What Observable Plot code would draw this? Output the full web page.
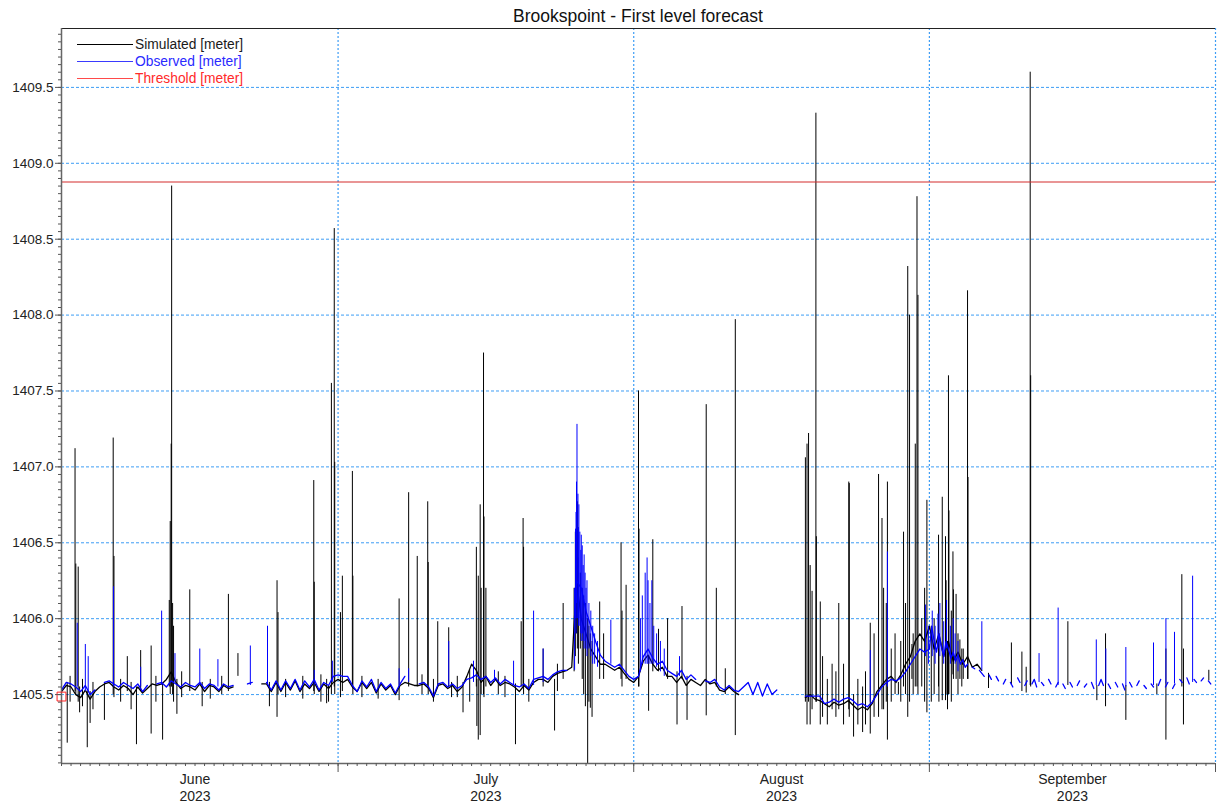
<!DOCTYPE html>
<html>
<head>
<meta charset="utf-8">
<script src="https://cdn.jsdelivr.net/npm/d3@7"></script>
<script src="https://cdn.jsdelivr.net/npm/@observablehq/plot@0.6"></script>
<style>
  body { margin: 0; background: #fff; }
  #chart { position: relative; width: 1218px; height: 803px; font-family: "Liberation Sans", Arial, sans-serif; color: #222; }
  #chart svg { position: absolute; left: 0; top: 0; }
  #title { position: absolute; left: 61px; width: 1154px; top: 5px; text-align: center; font-size: 17.5px; line-height: 22px; color: #111; }
  #legend { position: absolute; left: 77px; top: 35.5px; font-size: 13.8px; }
  .row { height: 17px; display: flex; align-items: center; white-space: nowrap; }
  .swatch { width: 56px; height: 1px; margin-right: 2px; }
</style>
</head>
<body>
<div id="chart">
  <div id="title"></div>
  <div id="legend"></div>
</div>
<script>
// ---- time base: readings are indexed in days since 2 June 2023 00:00 UTC
const start = Date.UTC(2023, 5, 2);
const end = Date.UTC(2023, 9, 1);
const DAY = 864e5;
const at = d => new Date(start + d * DAY);

const title = "Brookspoint - First level forecast";
const seriesNames = ["Simulated [meter]", "Observed [meter]", "Threshold [meter]"];
const threshold = 1408.88;

// y axis
const yDomain = [1405.046, 1409.888];
const yMajor = [1405.5, 1406.0, 1406.5, 1407.0, 1407.5, 1408.0, 1408.5, 1409.0, 1409.5];
const yMinorStep = 0.05;

// x axis
const monthStarts = ["2023-07-01", "2023-08-01", "2023-09-01", "2023-10-01"];
const monthNames = ["June", "July", "August", "September"];
const monthMids = ["2023-06-16T00:00Z", "2023-07-16T12:00Z", "2023-08-16T12:00Z", "2023-09-16T00:00Z"];
const yearLabel = "2023";

// Observed level, every 12 h from 2 June to 31 August (null = no reading)
const observed12h = [
  1405.53, 1405.58, 1405.57, 1405.55, 1405.52, 1405.56, 1405.50, 1405.53, null, 1405.58,
  1405.59, 1405.57, 1405.55, 1405.58, 1405.56, 1405.54, 1405.57, 1405.52, 1405.56, null,
  1405.57, 1405.58, 1405.55, 1405.59, 1405.57, 1405.55, 1405.58, 1405.56, 1405.55, 1405.58,
  1405.54, 1405.57, 1405.56, 1405.53, 1405.57, 1405.55, 1405.56, null, null, 1405.57,
  1405.58, null, null, 1405.58, 1405.53, 1405.59, 1405.53, 1405.59, 1405.54, 1405.60,
  1405.53, 1405.59, 1405.55, 1405.60, 1405.53, 1405.58, 1405.56, 1405.62, 1405.63, 1405.62,
  1405.62, 1405.56, 1405.52, 1405.59, 1405.55, 1405.60, 1405.52, 1405.58, 1405.54, 1405.57,
  1405.51, 1405.57, 1405.62, null, null, 1405.57, 1405.58, 1405.55, 1405.49, 1405.57,
  1405.58, 1405.55, 1405.57, 1405.54, 1405.56, 1405.60, 1405.61, 1405.63, 1405.60, 1405.62,
  1405.58, 1405.61, 1405.57, 1405.60, 1405.58, 1405.56, 1405.55, 1405.57, 1405.54, 1405.60,
  1405.61, 1405.62, 1405.60, 1405.63, 1405.65, 1405.66, 1405.66, null, 1406.25, 1406.20,
  1406.05, 1405.95, 1405.85, 1405.76, 1405.72, 1405.70, 1405.68, 1405.70, 1405.66, 1405.62,
  1405.60, 1405.62, 1405.75, 1405.80, 1405.74, 1405.70, 1405.72, 1405.66, 1405.64, 1405.62,
  1405.66, 1405.60, 1405.63, 1405.60, null, 1405.59, 1405.58, 1405.60, 1405.55, 1405.53,
  1405.56, 1405.53, 1405.52, 1405.55, 1405.58, 1405.50, 1405.58, 1405.49, 1405.57, 1405.50,
  1405.53, null, null, null, null, null, 1405.49, 1405.49, 1405.49, 1405.49,
  1405.44, 1405.45, 1405.47, 1405.45, 1405.47, 1405.48, 1405.46, 1405.43, 1405.44, 1405.42,
  1405.45, 1405.50, 1405.55, 1405.58, 1405.60, 1405.59, 1405.61, 1405.65, 1405.70, 1405.75,
  1405.80, 1405.78
];

// Observed level, every 6 h through September (patchy readings)
const observed6h = [
  1405.80, 1405.95, 1405.85, 1405.78,  1405.90, 1405.82, 1405.75, 1405.85,
  1405.80, 1405.74, 1405.78, 1405.72,  1405.76, 1405.70, 1405.73, 1405.68,
  1405.70, null, 1405.68, 1405.67,     null, 1405.66, 1405.64, 1405.62,
  null, 1405.63, 1405.60, null,        1405.62, 1405.59, null, 1405.57,
  1405.60, null, 1405.58, 1405.55,     null, 1405.61, 1405.58, null,
  1405.56, 1405.59, null, 1405.57,     1405.60, 1405.55, null, 1405.58,
  1405.56, null, 1405.60, 1405.57,     null, 1405.55, 1405.58, null,
  1405.57, 1405.54, null, 1405.58,     1405.55, null, 1405.56, 1405.59,
  null, 1405.55, 1405.57, null,        1405.58, 1405.54, null, 1405.56,
  1405.60, 1405.56, null, 1405.57,     1405.54, null, 1405.58, 1405.55,
  null, 1405.57, 1405.53, null,        1405.58, 1405.55, null, 1405.56,
  1405.59, null, 1405.56, 1405.54,     null, 1405.57, 1405.55, null,
  1405.56, 1405.60, null, 1405.55,     1405.58, null, 1405.54, 1405.57,
  null, 1405.60, 1405.58, null,        1405.61, 1405.57, null, 1405.60,
  1405.58, null, 1405.59, 1405.61,     null, 1405.59, 1405.57, null,
  null
];

// Simulated level, every 12 h from 2 June to 7 September
const simulated12h = [
  1405.52, 1405.56, 1405.55, 1405.50, 1405.48, 1405.53, 1405.47, 1405.52, 1405.55, 1405.57,
  1405.58, 1405.55, 1405.53, 1405.56, 1405.54, 1405.50, 1405.55, 1405.51, 1405.54, 1405.57,
  1405.56, 1405.57, 1405.60, 1405.65, 1405.58, 1405.54, 1405.56, 1405.55, 1405.53, 1405.57,
  1405.52, 1405.56, 1405.55, 1405.52, 1405.56, 1405.54, 1405.55, null, null, null,
  null, null, 1405.57, 1405.57, 1405.52, 1405.58, 1405.52, 1405.58, 1405.53, 1405.59,
  1405.52, 1405.57, 1405.54, 1405.58, 1405.52, 1405.57, 1405.54, 1405.58, 1405.60, 1405.58,
  1405.60, 1405.55, 1405.52, 1405.58, 1405.54, 1405.58, 1405.51, 1405.57, 1405.53, 1405.56,
  1405.50, 1405.56, 1405.58, 1405.57, 1405.56, 1405.56, 1405.57, 1405.54, 1405.48, 1405.56,
  1405.57, 1405.54, 1405.56, 1405.52, 1405.55, 1405.62, 1405.70, 1405.66, 1405.58, 1405.62,
  1405.56, 1405.60, 1405.56, 1405.58, 1405.57, 1405.55, 1405.52, 1405.56, 1405.53, 1405.58,
  1405.60, 1405.60, 1405.58, 1405.62, 1405.64, 1405.65, 1405.66, 1405.68, 1406.25, 1406.00,
  1405.90, 1405.80, 1405.75, 1405.70, 1405.70, 1405.68, 1405.66, 1405.68, 1405.64, 1405.60,
  1405.58, 1405.62, 1405.72, 1405.76, 1405.70, 1405.66, 1405.68, 1405.62, 1405.62, 1405.58,
  1405.62, 1405.56, 1405.60, 1405.58, 1405.56, 1405.60, 1405.57, 1405.58, 1405.53, 1405.52,
  1405.55, 1405.52, 1405.50, null, null, null, null, null, null, null,
  null, null, null, null, null, null, 1405.48, 1405.50, 1405.47, 1405.46,
  1405.44, 1405.42, 1405.45, 1405.43, 1405.44, 1405.46, 1405.43, 1405.40, 1405.42, 1405.40,
  1405.44, 1405.52, 1405.56, 1405.60, 1405.62, 1405.58, 1405.63, 1405.70, 1405.75, 1405.85,
  1405.90, 1405.85, 1405.95, 1405.80, 1405.90, 1405.75, 1405.85, 1405.72, 1405.78, 1405.70,
  1405.75, 1405.68, 1405.70, 1405.66
];

// Short simulated excursions: [day, low, high]
const simSpikes = [
  [0.6, 1405.18, 1405.58], [0.9, 1405.45, 1405.62], [1.42, 1405.52, 1407.12], [1.5, 1405.50, 1406.36],
  [1.75, 1405.45, 1406.34], [1.9, 1405.38, 1405.55], [2.2, 1405.42, 1405.60], [2.7, 1405.15, 1405.52],
  [3.0, 1405.31, 1405.52], [3.3, 1405.40, 1405.58], [4.5, 1405.33, 1405.57], [5.42, 1405.50, 1407.19],
  [5.5, 1405.48, 1406.41], [6.2, 1405.45, 1405.60], [6.9, 1405.52, 1405.75], [7.3, 1405.40, 1405.58],
  [7.86, 1405.17, 1405.55], [8.3, 1405.52, 1405.79], [9.4, 1405.24, 1405.82], [9.9, 1405.45, 1405.62],
  [10.6, 1405.20, 1405.57], [11.3, 1405.55, 1406.12], [11.4, 1405.50, 1406.64], [11.5, 1405.55, 1407.15],
  [11.55, 1405.55, 1408.85], [11.65, 1405.50, 1406.10], [11.75, 1405.45, 1405.95], [12.1, 1405.37, 1405.60],
  [12.6, 1405.48, 1405.65], [13.45, 1405.52, 1406.19], [14.75, 1405.42, 1405.58], [15.6, 1405.47, 1405.60],
  [16.8, 1405.50, 1405.62], [17.5, 1405.52, 1406.16], [18.5, 1405.62, 1405.77], [21.8, 1405.42, 1405.58],
  [22.6, 1405.35, 1406.25], [22.7, 1405.50, 1406.04], [23.5, 1405.48, 1405.60], [25.3, 1405.47, 1405.62],
  [26.45, 1405.52, 1406.91], [26.5, 1405.50, 1406.24], [27.2, 1405.45, 1405.63], [27.8, 1405.44, 1405.60],
  [28.0, 1405.45, 1405.56], [28.3, 1405.50, 1407.55], [28.6, 1405.55, 1408.57], [28.65, 1405.50, 1407.03],
  [29.25, 1405.48, 1406.04], [29.45, 1405.52, 1406.28], [30.5, 1405.55, 1406.97], [30.55, 1405.50, 1406.28],
  [31.5, 1405.48, 1405.62], [33.2, 1405.47, 1405.60], [35.4, 1405.46, 1406.13], [36.4, 1405.55, 1406.83],
  [37.3, 1405.55, 1406.41], [37.8, 1405.50, 1405.63], [38.4, 1405.55, 1406.77], [38.45, 1405.50, 1406.37],
  [39.0, 1405.45, 1405.60], [39.45, 1405.55, 1405.98], [40.6, 1405.55, 1405.94], [40.9, 1405.48, 1405.58],
  [41.5, 1405.48, 1405.62], [42.1, 1405.38, 1405.58], [42.8, 1405.45, 1405.66], [43.5, 1405.55, 1406.47],
  [43.55, 1405.29, 1405.60], [43.7, 1405.20, 1406.28], [43.9, 1405.23, 1406.75], [44.0, 1405.50, 1406.20],
  [44.25, 1405.50, 1407.75], [44.3, 1405.48, 1406.67], [44.5, 1405.55, 1406.20], [45.8, 1405.50, 1405.65],
  [46.5, 1405.48, 1405.62], [47.6, 1405.17, 1405.57], [48.2, 1405.55, 1405.98], [48.4, 1405.55, 1406.66],
  [48.45, 1405.50, 1406.47], [49.0, 1405.45, 1405.60], [50.5, 1405.55, 1405.80], [51.7, 1405.26, 1405.60],
  [52.0, 1405.52, 1405.70], [52.6, 1405.60, 1406.10],
  [53.75, 1405.65, 1406.20], [53.88, 1405.75, 1406.57], [54.0, 1405.90, 1406.57], [54.09, 1405.80, 1406.77],
  [54.2, 1405.70, 1406.40], [54.4, 1405.80, 1406.30], [54.6, 1405.60, 1406.20], [54.75, 1405.50, 1406.15],
  [54.93, 1405.42, 1406.10], [55.17, 1405.04, 1406.00], [55.3, 1405.45, 1405.95], [55.45, 1405.41, 1405.90],
  [55.63, 1405.35, 1405.85], [56.43, 1405.60, 1406.11], [56.84, 1405.60, 1405.90], [58.67, 1405.60, 1406.50],
  [58.77, 1405.55, 1406.05], [59.2, 1405.60, 1406.22], [60.5, 1405.55, 1407.50], [60.55, 1405.55, 1406.59],
  [61.56, 1405.39, 1405.75], [62.0, 1405.65, 1406.52], [62.6, 1405.65, 1405.93], [63.55, 1405.60, 1406.00],
  [64.54, 1405.30, 1405.65], [65.06, 1405.60, 1406.08], [65.59, 1405.33, 1405.62], [67.6, 1405.36, 1407.41],
  [68.66, 1405.55, 1406.20], [69.6, 1405.50, 1405.67], [70.65, 1405.23, 1407.97],
  [78.0, 1405.45, 1407.06], [78.17, 1405.30, 1407.15], [78.33, 1405.45, 1407.22], [78.5, 1405.30, 1406.35],
  [78.7, 1405.40, 1406.18], [79.1, 1405.45, 1409.33], [79.15, 1405.45, 1406.54], [79.56, 1405.30, 1406.11],
  [79.8, 1405.35, 1405.75], [80.3, 1405.30, 1405.60], [80.8, 1405.40, 1405.70], [81.2, 1405.35, 1405.65],
  [81.5, 1405.40, 1406.10], [82.0, 1405.30, 1405.70], [82.55, 1405.40, 1406.90], [82.6, 1405.35, 1406.89],
  [83.05, 1405.22, 1405.50], [83.5, 1405.30, 1405.60], [84.0, 1405.25, 1405.55], [84.3, 1405.30, 1405.65],
  [84.8, 1405.24, 1405.97], [85.2, 1405.35, 1405.90], [85.67, 1405.35, 1406.95], [86.03, 1405.40, 1406.66],
  [86.2, 1405.40, 1406.20], [86.48, 1405.45, 1406.10], [86.6, 1405.20, 1406.90], [87.0, 1405.45, 1405.80],
  [87.4, 1405.50, 1405.90], [87.75, 1405.50, 1405.58], [88.0, 1405.45, 1405.85], [88.29, 1405.55, 1406.57],
  [88.5, 1405.50, 1406.10], [88.73, 1405.35, 1408.32], [88.92, 1405.45, 1408.00], [89.17, 1405.60, 1405.83],
  [89.3, 1405.50, 1405.90], [89.52, 1405.55, 1407.15], [89.7, 1405.55, 1408.78], [89.8, 1405.50, 1408.13],
  [90.2, 1405.55, 1406.00], [90.5, 1405.45, 1406.20], [90.74, 1405.38, 1406.78],
  [91.2, 1405.45, 1405.95], [91.5, 1405.50, 1406.00], [91.96, 1405.55, 1406.55], [92.0, 1405.45, 1405.90],
  [92.35, 1405.46, 1406.80], [92.69, 1405.46, 1406.54], [92.75, 1405.50, 1406.25], [92.9, 1405.40, 1405.85],
  [93.0, 1405.50, 1407.60], [93.05, 1405.50, 1406.71], [93.3, 1405.45, 1406.05], [93.47, 1405.63, 1406.44],
  [93.52, 1405.60, 1406.19], [93.8, 1405.60, 1406.16], [94.0, 1405.50, 1405.90], [94.2, 1405.60, 1405.86],
  [94.4, 1405.55, 1405.80], [94.55, 1405.60, 1405.80], [95.0, 1405.60, 1408.16], [95.05, 1405.60, 1406.93],
  [97.2, 1405.54, 1405.64], [99.6, 1405.56, 1405.84], [100.7, 1405.52, 1405.78], [101.15, 1405.51, 1405.68],
  [101.57, 1405.56, 1409.60], [101.62, 1405.55, 1407.60], [105.52, 1405.56, 1405.98], [108.56, 1405.46, 1405.56],
  [109.47, 1405.42, 1405.90], [111.6, 1405.33, 1405.56], [114.85, 1405.50, 1405.57], [115.8, 1405.20, 1405.80],
  [117.47, 1405.55, 1406.29], [117.64, 1405.30, 1405.80], [120.3, 1405.59, 1405.66]
];

// Short observed excursions: [day, low, high]
const obsSpikes = [
  [1.65, 1405.55, 1405.97], [2.5, 1405.52, 1405.83], [2.8, 1405.52, 1405.75], [5.45, 1405.55, 1406.21],
  [8.3, 1405.55, 1405.68], [10.5, 1405.56, 1406.05], [11.9, 1405.58, 1405.77], [14.5, 1405.56, 1405.80],
  [16.4, 1405.55, 1405.73], [19.8, 1405.56, 1405.82], [21.6, 1405.56, 1405.95], [26.5, 1405.56, 1405.66],
  [28.4, 1405.58, 1405.72], [35.4, 1405.56, 1405.67], [36.4, 1405.58, 1405.67], [40.6, 1405.56, 1405.85],
  [43.2, 1405.58, 1405.72], [45.4, 1405.58, 1405.66], [47.4, 1405.56, 1405.72], [49.5, 1405.56, 1406.05],
  [50.5, 1405.58, 1405.80],
  [53.8, 1405.66, 1406.20], [53.9, 1406.00, 1406.59], [53.95, 1405.90, 1406.70], [54.0, 1406.10, 1406.90],
  [54.05, 1406.00, 1407.28], [54.15, 1406.00, 1406.82], [54.2, 1405.95, 1406.60], [54.25, 1406.00, 1406.75],
  [54.35, 1405.95, 1406.57], [54.45, 1405.90, 1406.45], [54.5, 1405.85, 1406.55], [54.6, 1405.90, 1406.48],
  [54.7, 1405.85, 1406.35], [54.8, 1405.80, 1406.42], [54.9, 1405.85, 1406.30], [55.0, 1405.80, 1406.20],
  [55.1, 1405.75, 1406.25], [55.3, 1405.80, 1406.10], [55.5, 1405.75, 1406.05], [55.7, 1405.70, 1405.95],
  [55.9, 1405.70, 1405.90], [56.2, 1405.68, 1405.85], [57.6, 1405.70, 1405.99],
  [60.7, 1405.65, 1406.00], [60.9, 1405.70, 1406.15], [61.2, 1405.70, 1406.30], [61.4, 1405.70, 1406.40],
  [61.5, 1405.70, 1406.25], [61.7, 1405.70, 1406.10], [61.9, 1405.70, 1406.25], [62.1, 1405.70, 1405.95],
  [62.4, 1405.68, 1405.90], [62.8, 1405.65, 1405.85], [63.2, 1405.62, 1405.80], [64.8, 1405.62, 1405.75],
  [84.8, 1405.45, 1405.79], [86.6, 1405.55, 1406.44], [90.6, 1405.75, 1406.09], [90.9, 1405.70, 1405.95],
  [91.3, 1405.75, 1406.05], [91.6, 1405.70, 1405.95], [91.9, 1405.80, 1406.03], [92.1, 1405.75, 1406.10],
  [92.5, 1405.70, 1405.98], [92.8, 1405.80, 1406.12], [93.2, 1405.70, 1405.95], [93.5, 1405.75, 1406.00],
  [93.7, 1405.70, 1405.90], [94.0, 1405.65, 1405.85], [96.5, 1405.66, 1405.98], [102.5, 1405.58, 1405.77],
  [104.5, 1405.56, 1406.07], [108.5, 1405.56, 1405.86], [109.5, 1405.57, 1405.80], [111.6, 1405.55, 1405.81],
  [114.5, 1405.56, 1405.84], [115.8, 1405.57, 1406.00], [116.7, 1405.57, 1405.91], [118.6, 1405.58, 1406.28]
];

// start-of-run marker
const marker = [[0, 1405.487]];

// ---- tables for the marks
const simRows = simulated12h.map((v, i) => ({date: at(i * 0.5), value: v}));
const obsRows = [
  ...observed12h.map((v, i) => ({date: at(i * 0.5), value: v})),
  ...observed6h.map((v, i) => ({date: at(91 + i * 0.25), value: v}))
];
const thresholdRows = [{level: threshold}];
const yMinor = d3.range(Math.ceil(yDomain[0] / yMinorStep) * yMinorStep, yDomain[1], yMinorStep);
const dayTicks = d3.utcDay.range(new Date(start), new Date(end + 1));
const monthTicks = monthStarts.map(d => new Date(d));
const monthLabelRows = monthMids.map((d, i) => ({date: new Date(d), label: `${monthNames[i]}\n${yearLabel}`}));

const GRID = "#3d9df5";
const BLUE = "#0000ff";
const RED = "#d42c2c";
const spikeOpts = (color) => ({
  x: d => at(d[0]), y1: d => d[1], y2: d => d[2], stroke: color, strokeWidth: 1, clip: true
});

const svg = Plot.plot({
  width: 1218,
  height: 803,
  marginLeft: 61,
  marginRight: 3,
  marginTop: 28,
  marginBottom: 40,
  style: {fontFamily: "'Liberation Sans', Arial, sans-serif", fontSize: "13.5px", color: "#222", background: "#fff"},
  x: {type: "utc", domain: [new Date(start), new Date(end)]},
  y: {domain: yDomain},
  marks: [
    Plot.gridY(yMajor, {stroke: GRID, strokeOpacity: 1, strokeDasharray: "3,2"}),
    Plot.gridX(monthTicks, {stroke: GRID, strokeOpacity: 1, strokeDasharray: "2,2", strokeWidth: 1.2}),
    Plot.line(simRows, {x: "date", y: "value", stroke: "#000", strokeWidth: 1.3, clip: true}),
    Plot.ruleX(simSpikes, spikeOpts("#000")),
    Plot.line(obsRows, {x: "date", y: "value", stroke: BLUE, strokeWidth: 1.3, clip: true}),
    Plot.ruleX(obsSpikes, spikeOpts(BLUE)),
    // threshold: straddles two pixel rows so the thin red line keeps its hue
    Plot.ruleY(thresholdRows, {y: "level", stroke: RED, strokeOpacity: 1, strokeWidth: 1.2, dy: 0.5}),
    Plot.ruleY([yDomain[1]], {stroke: "#222", strokeWidth: 1}),
    Plot.ruleY([yDomain[0]], {stroke: "#666", strokeWidth: 1.5}),
    Plot.ruleX([new Date(start)], {stroke: "#666", strokeWidth: 1.5}),
    Plot.dot(marker, {x: d => at(d[0]), y: d => d[1], symbol: "square", r: 5, stroke: "#ff2020", fill: "none", strokeWidth: 1}),
    Plot.axisY(yMinor, {tickSize: 3, tickFormat: () => "", label: null, stroke: "#555"}),
    Plot.axisY(yMajor, {tickSize: 6, tickPadding: 2, tickFormat: d => d.toFixed(1), label: null, stroke: "#555", fontSize: 13.5}),
    Plot.axisX(dayTicks, {tickSize: 3, tickFormat: () => "", label: null, stroke: "#555"}),
    Plot.axisX(monthTicks, {tickSize: 9, tickFormat: () => "", label: null, stroke: "#555"}),
    Plot.text(monthLabelRows, {x: "date", text: "label", frameAnchor: "bottom", lineAnchor: "top", dy: 9.5, fontSize: 14, lineHeight: 1.15, fill: "#222"})
  ]
});

const chart = document.getElementById("chart");
chart.insertBefore(svg, chart.firstChild);
document.getElementById("title").textContent = title;

const legendColors = [["#000", "#1a1a1a"], ["#3a3aff", "#2a2aff"], ["#ff4a4a", "#ff2a2a"]];
const legend = document.getElementById("legend");
seriesNames.forEach((name, i) => {
  const row = document.createElement("div");
  row.className = "row";
  const sw = document.createElement("span");
  sw.className = "swatch";
  sw.style.background = legendColors[i][0];
  const tx = document.createElement("span");
  tx.textContent = name;
  tx.style.color = legendColors[i][1];
  row.append(sw, tx);
  legend.append(row);
});
</script>
</body>
</html>
